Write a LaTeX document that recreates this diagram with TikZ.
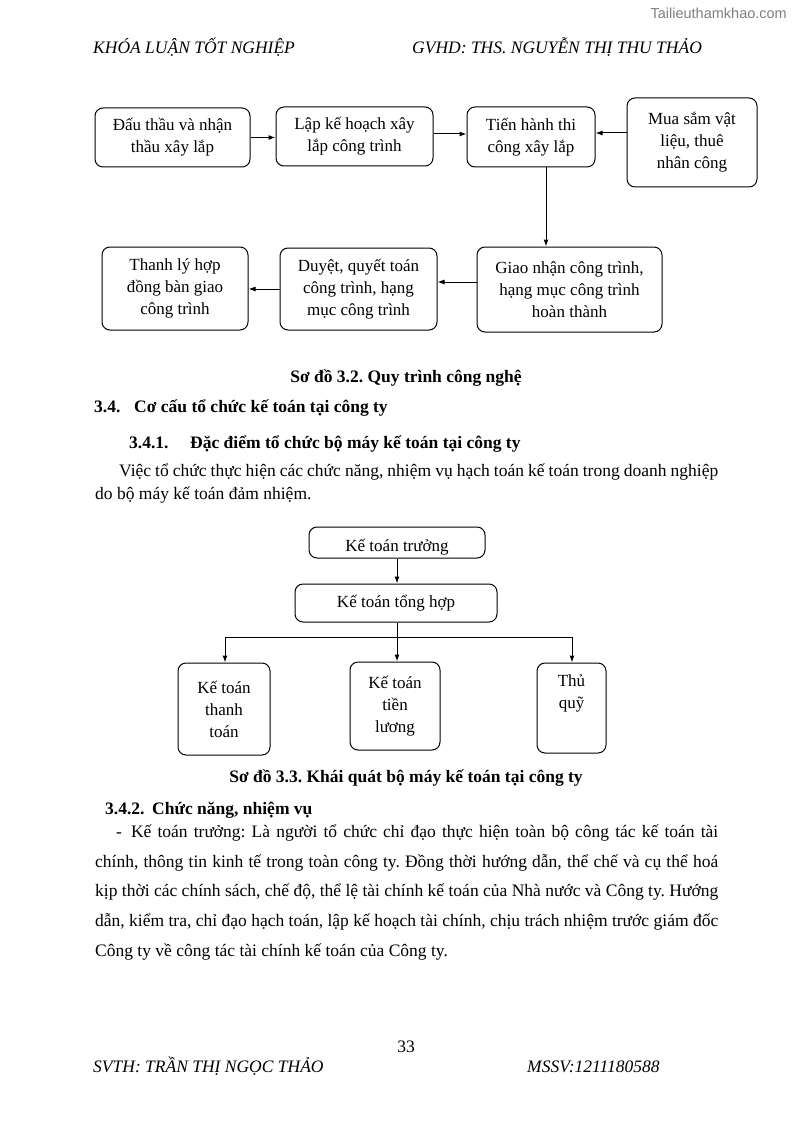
\documentclass[tikz,border=0pt]{standalone}
\usepackage{fontspec}
\setmainfont{Liberation Serif}
\newfontfamily\wmfont{Liberation Sans}
\usetikzlibrary{arrows.meta,calc}
\frenchspacing
\begin{document}
\begin{tikzpicture}[x=1pt,y=-1pt,
  box/.style={draw,line width=1pt,rounded corners=8pt,align=center,inner sep=2pt,
    font=\fontsize{17}{22}\selectfont},
  arr/.style={line width=1pt,-{Latex[length=7pt,width=5pt]}},
  ln/.style={line width=1pt},
  txt/.style={anchor=base west,inner sep=0pt,font=\fontsize{17.5}{20}\selectfont},
  hdr/.style={anchor=base west,inner sep=0pt,font=\fontsize{17.5}{20}\selectfont\itshape},
  bold/.style={anchor=base west,inner sep=0pt,font=\fontsize{17.5}{20}\selectfont\bfseries}]
\useasboundingbox (0,0) rectangle (794,1123);
\fill[white] (0,0) rectangle (794,1123);
% header / footer
\node[anchor=base east,inner sep=0pt,text=black!50,font=\wmfont\fontsize{14.5}{16}\selectfont] (wm) at (787,19) {Tailieuthamkhao.com};
\node[hdr] (h1) at (93,54) {KHÓA LUẬN TỐT NGHIỆP};
\node[hdr] (h2) at (412,54) {GVHD: THS. NGUYỄN THỊ THU THẢO};
\node[anchor=base,inner sep=0pt,font=\fontsize{17.5}{20}\selectfont] (pg) at (406,1052) {33};
\node[hdr] (f1) at (93,1072) {SVTH: TRẦN THỊ NGỌC THẢO};
\node[hdr] (f2) at (527,1072) {MSSV:1211180588};
% diagram 1
\node[box,minimum width=155pt,minimum height=59pt] (A) at (172.5,137.5) {Đấu thầu và nhận\\thầu xây lắp};
\node[box,minimum width=157pt,minimum height=59pt] (B) at (354.5,136.5) {Lập kế hoạch xây\\lắp công trình};
\node[box,minimum width=128pt,minimum height=60pt] (C) at (531,137) {Tiến hành thi\\công xây lắp};
\node[box,minimum width=130pt,minimum height=89pt] (D) at (692,142.5) {Mua sắm vật\\liệu, thuê\\nhân công};
\node[box,minimum width=185pt,minimum height=85pt] (E) at (569.5,289.5) {Giao nhận công trình,\\hạng mục công trình\\hoàn thành};
\node[box,minimum width=157pt,minimum height=82pt] (F) at (358.5,289) {Duyệt, quyết toán\\công trình, hạng\\mục công trình};
\node[box,minimum width=146pt,minimum height=83pt] (G) at (175,288.5) {Thanh lý hợp\\đồng bàn giao\\công trình};
\coordinate (yBC) at (0,134);
\coordinate (yDC) at (0,133);
\coordinate (yEF) at (0,282);
\coordinate (xCE) at (546,0);
\draw[arr] (A.east) -- (A.east -| B.west);
\draw[arr] (B.east |- yBC) -- (C.west |- yBC);
\draw[arr] (D.west |- yDC) -- (C.east |- yDC);
\draw[arr] (C.south -| xCE) -- (E.north -| xCE);
\draw[arr] (E.west |- yEF) -- (F.east |- yEF);
\draw[arr] (F.west) -- (F.west -| G.east);
\node[anchor=base,inner sep=0pt,font=\fontsize{17.5}{20}\selectfont\bfseries] (cap1) at (406,382) {Sơ đồ 3.2. Quy trình công nghệ};
% headings & paragraph
\node[bold] (s34) at (94,412) {3.4.};
\node[bold] (s34t) at (134,412) {Cơ cấu tổ chức kế toán tại công ty};
\node[bold] (s341) at (129,448) {3.4.1.};
\node[bold] (s341t) at (190,448) {Đặc điểm tổ chức bộ máy kế toán tại công ty};
\node[txt] (p1) at (119,476) {\makebox[599pt][s]{Việc tổ chức thực hiện các chức năng, nhiệm vụ hạch toán kế toán trong doanh nghiệp}};
\node[txt] (p2) at (95,499) {do bộ máy kế toán đảm nhiệm.};
% diagram 2
\node[box,minimum width=176pt,minimum height=31pt] (KT) at (397,542.5) {};
\node[anchor=base,inner sep=0pt,font=\fontsize{17}{20}\selectfont] (KTt) at (397,551) {Kế toán trưởng};
\node[box,minimum width=202pt,minimum height=38pt] (TH) at (396,603) {Kế toán tổng hợp};
\node[box,minimum width=92pt,minimum height=92pt] (L) at (224,709) {Kế toán\\thanh\\toán};
\node[box,minimum width=90pt,minimum height=88pt] (M) at (395,706) {Kế toán\\tiền\\lương};
\node[box,minimum width=69pt,minimum height=90pt] (R) at (571.5,708) {};
\node[align=center,inner sep=0pt,font=\fontsize{17}{22}\selectfont] (Rt) at (571.5,693) {Thủ\\quỹ};
\coordinate (xK) at (397,0);
\coordinate (br) at (397,637);
\coordinate (bl) at (225,637);
\coordinate (bri) at (572,637);
\draw[arr] (KT.south -| xK) -- (TH.north -| xK);
\draw[ln] (TH.south -| xK) -- (br);
\draw[arr] (br) -- (M.north -| br);
\draw[ln] (bl) -- (bri);
\draw[arr] (bl) -- (L.north -| bl);
\draw[arr] (bri) -- (R.north -| bri);
\node[anchor=base,inner sep=0pt,font=\fontsize{17.5}{20}\selectfont\bfseries] (cap2) at (406,782) {Sơ đồ 3.3. Khái quát bộ máy kế toán tại công ty};
% 3.4.2
\node[bold] (s342) at (105,814) {3.4.2.};
\node[bold] (s342t) at (152,814) {Chức năng, nhiệm vụ};
\node[txt] (q1) at (116,837) {\makebox[602pt][s]{-\hspace{9pt}Kế toán trưởng: Là người tổ chức chỉ đạo thực hiện toàn bộ công tác kế toán tài}};
\node[txt] (q2) at (95,867) {\makebox[623pt][s]{chính, thông tin kinh tế trong toàn công ty. Đồng thời hướng dẫn, thể chế và cụ thể hoá}};
\node[txt] (q3) at (95,896) {\makebox[623pt][s]{kịp thời các chính sách, chế độ, thể lệ tài chính kế toán của Nhà nước và Công ty. Hướng}};
\node[txt] (q4) at (95,926) {\makebox[623pt][s]{dẫn, kiểm tra, chỉ đạo hạch toán, lập kế hoạch tài chính, chịu trách nhiệm trước giám đốc}};
\node[txt] (q5) at (95,956) {Công ty về công tác tài chính kế toán của Công ty.};
\end{tikzpicture}
\end{document}
